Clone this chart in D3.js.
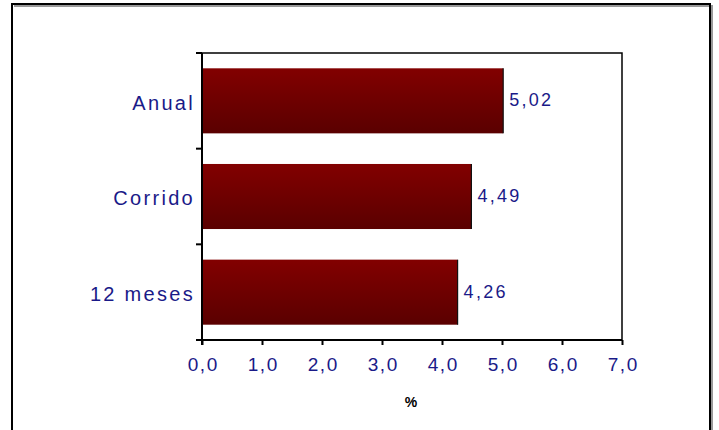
<!DOCTYPE html>
<html>
<head>
<meta charset="utf-8">
<script src="https://cdn.jsdelivr.net/npm/d3@7"></script>
<style>
  body { margin: 0; background: #fff; }
  text { font-family: "Liberation Sans", Arial, sans-serif; }
</style>
</head>
<body>
<svg width="719" height="430"></svg>
<script>
// chart data
var categories = ["Anual", "Corrido", "12 meses"];
var values = [5.02, 4.49, 4.26];
var tickValues = [0, 1, 2, 3, 4, 5, 6, 7];

var svg = d3.select('svg');
var navy = "#1a1a88";

// outer frame (shadow then border)
svg.append("path")
   .attr("d", "M14,6 H712 V432")
   .attr("fill", "none").attr("stroke", "#999").attr("stroke-width", 2);
svg.append("path")
   .attr("d", "M12,432 V4 H710 V432")
   .attr("fill", "none").attr("stroke", "#000").attr("stroke-width", 2);

var plot = {l: 202, t: 53, r: 622, b: 340};

var xScale = d3.scaleLinear().domain([0, 7]).range([plot.l, plot.r]);
var yScale = d3.scaleBand().domain(categories).range([plot.t, plot.b]).paddingInner(0.32).paddingOuter(0.16);

// gradient for bars
var grad = svg.append("defs").append("linearGradient")
    .attr("id", "barGrad").attr("x1", 0).attr("y1", 0).attr("x2", 0).attr("y2", 1);
grad.append("stop").attr("offset", "0%").attr("stop-color", "#820000");
grad.append("stop").attr("offset", "100%").attr("stop-color", "#5a0000");

// plot area frame (top and right)
svg.append("path")
   .attr("d", "M" + plot.l + "," + plot.t + " H" + plot.r + " V" + plot.b)
   .attr("fill", "none").attr("stroke", "#000").attr("stroke-width", 1.5);

// bars
var bars = svg.selectAll(".bar").data(categories).enter().append("g").attr("class", "bar");
bars.append("rect")
    .attr("x", xScale(0))
    .attr("y", d => yScale(d))
    .attr("width", (d, i) => xScale(values[i]) - xScale(0))
    .attr("height", yScale.bandwidth())
    .attr("fill", "url(#barGrad)");
bars.append("line")
    .attr("x1", (d, i) => xScale(values[i]))
    .attr("x2", (d, i) => xScale(values[i]))
    .attr("y1", d => yScale(d))
    .attr("y2", d => yScale(d) + yScale.bandwidth())
    .attr("stroke", "#111").attr("stroke-width", 1.2);
bars.append("text")
    .attr("x", (d, i) => xScale(values[i]) + 6)
    .attr("y", d => yScale(d) + yScale.bandwidth() / 2)
    .attr("dy", "0.3em")
    .attr("fill", navy)
    .attr("font-size", 18)
    .attr("letter-spacing", 2.3)
    .text((d, i) => d3.format(".2f")(values[i]).replace(".", ","));

// y axis: line, ticks at band boundaries, labels
var bounds = d3.range(categories.length + 1).map(i => plot.t + i * (plot.b - plot.t) / categories.length);
svg.append("line")
   .attr("x1", plot.l).attr("x2", plot.l).attr("y1", plot.t).attr("y2", plot.b + 5)
   .attr("stroke", "#000").attr("stroke-width", 2);
svg.selectAll(".ytick").data(bounds).enter().append("line")
   .attr("x1", plot.l - 6).attr("x2", plot.l)
   .attr("y1", d => d).attr("y2", d => d)
   .attr("stroke", "#000").attr("stroke-width", 2);
svg.selectAll(".ylabel").data(categories).enter().append("text")
   .attr("x", 195)
   .attr("y", d => yScale(d) + yScale.bandwidth() / 2)
   .attr("dy", "0.44em")
   .attr("text-anchor", "end")
   .attr("fill", navy)
   .attr("font-size", 20)
   .attr("letter-spacing", 2.3)
   .text(d => d);

// x axis
var xAxis = svg.append("g")
   .attr("transform", "translate(0," + plot.b + ")")
   .call(d3.axisBottom(xScale).tickValues(tickValues).tickSize(5).tickPadding(13)
         .tickFormat(d => d3.format(".1f")(d).replace(".", ",")));
xAxis.select(".domain").attr("stroke", "#000").attr("stroke-width", 2).attr("d", "M" + (plot.l - 6) + ",0 H" + plot.r);
xAxis.selectAll(".tick line").attr("stroke", "#000").attr("stroke-width", 2);
xAxis.selectAll(".tick text")
   .attr("fill", navy)
   .attr("font-size", 19)
   .attr("letter-spacing", 1.5)
   .attr("dx", 0.75)
   .attr("font-family", "Liberation Sans, Arial, sans-serif");

svg.append("text")
   .attr("x", 411).attr("y", 407)
   .attr("text-anchor", "middle")
   .attr("font-size", 14)
   .attr("font-weight", "bold")
   .attr("fill", "#000")
   .text("%");
</script>
</body>
</html>
